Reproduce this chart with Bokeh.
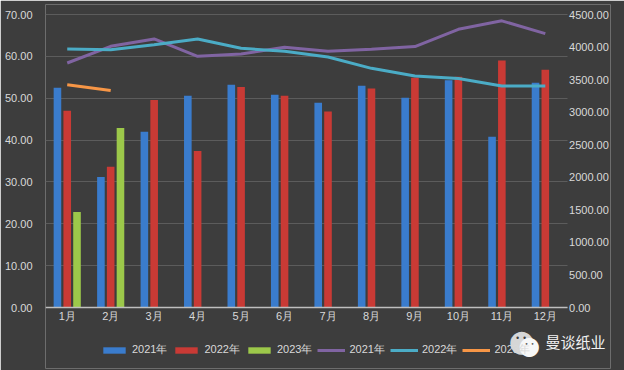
from bokeh.plotting import figure
from bokeh.models import (Range1d, LinearAxis, NumeralTickFormatter, FixedTicker,
                          Legend, LegendItem, FactorRange, ColumnDataSource, Label)
from bokeh.transform import dodge
from bokeh.embed import file_html
from bokeh.resources import INLINE

months = ["1月", "2月", "3月", "4月", "5月", "6月", "7月", "8月", "9月", "10月", "11月", "12月"]

bar_2021 = [52.5, 31.2, 42.0, 50.6, 53.2, 50.8, 48.9, 53.0, 50.1, 54.3, 40.8, 53.7]
bar_2022 = [47.0, 33.6, 49.6, 37.4, 52.7, 50.6, 46.8, 52.3, 54.9, 55.1, 59.0, 56.8]
bar_2023 = [22.8, 42.9]
months_2023 = months[:2]

line_2021 = [3755, 4011, 4125, 3857, 3894, 3996, 3935, 3966, 4007, 4273, 4403, 4207]
line_2022 = [3971, 3960, 4037, 4125, 3981, 3935, 3847, 3673, 3555, 3518, 3401, 3401]
line_2023 = [3421, 3333]

left_ticks = [0, 10, 20, 30, 40, 50, 60, 70]
right_ticks = [0, 500, 1000, 1500, 2000, 2500, 3000, 3500, 4000, 4500]
left_max = 70
right_max = 4500

BG = "#3d3d3d"
TXT = "#d9d9d9"
FONT = "Liberation Sans"

# layout: frame from y=4 to y=368; value 0 sits at y=307 and the top tick at y=14.
# One blank slot after 12月 gives room (inside the frame) for the right axis labels
# and the watermark; the right axis is drawn at the end of 12月.
W, H = 624, 370
TOP, BOTTOM_BORDER = 4, 2
FRAME_BOTTOM = H - BOTTOM_BORDER
ZERO_Y, MAX_Y = 307, 14
hi_frac = (ZERO_Y - TOP) / (ZERO_Y - MAX_Y)
lo_frac = (FRAME_BOTTOM - ZERO_Y) / (ZERO_Y - MAX_Y)
n = len(months)

p = figure(width=W, height=H, x_range=FactorRange(*(months + [" "]), range_padding=0),
           y_range=Range1d(-left_max * lo_frac, left_max * hi_frac), output_backend="svg",
           toolbar_location=None,
           min_border_left=45, min_border_right=14, min_border_top=TOP,
           min_border_bottom=BOTTOM_BORDER)
p.extra_y_ranges = {"r": Range1d(-right_max * lo_frac, right_max * hi_frac)}
p.background_fill_color = BG
p.border_fill_color = BG
p.outline_line_color = None

# bars
src21 = ColumnDataSource(dict(m=months, v=bar_2021))
src22 = ColumnDataSource(dict(m=months, v=bar_2022))
src23 = ColumnDataSource(dict(m=months_2023, v=bar_2023))
bw = 0.175
r21 = p.vbar(x=dodge("m", -0.225, range=p.x_range), top="v", bottom=0, width=bw, source=src21,
             fill_color="#3a7ccd", line_color=None)
r22 = p.vbar(x=dodge("m", 0.0, range=p.x_range), top="v", bottom=0, width=bw, source=src22,
             fill_color="#c93a35", line_color=None)
r23 = p.vbar(x=dodge("m", 0.225, range=p.x_range), top="v", bottom=0, width=bw, source=src23,
             fill_color="#9cc84a", line_color=None)

# lines on right axis
l21 = p.line(months, line_2021, y_range_name="r", line_color="#8064a2", line_width=3)
l22 = p.line(months, line_2022, y_range_name="r", line_color="#4bacc6", line_width=3)
l23 = p.line(months_2023, line_2023, y_range_name="r", line_color="#f79646", line_width=3)

# axes
ya = p.yaxis[0]
ya.ticker = FixedTicker(ticks=left_ticks)
ya.formatter = NumeralTickFormatter(format="0.00")
ya.axis_line_color = None
ya.major_tick_line_color = None
ya.minor_tick_line_color = None
ya.major_label_text_color = TXT
ya.major_label_text_font = FONT
ya.major_label_text_font_size = "11px"
ya.major_label_standoff = 7

ra = LinearAxis(y_range_name="r", ticker=FixedTicker(ticks=right_ticks),
                formatter=NumeralTickFormatter(format="0.00"))
ra.fixed_location = float(n)
ra.axis_line_color = None
ra.axis_line_alpha = 0
ra.axis_line_width = 0
ra.major_tick_line_color = None
ra.minor_tick_line_color = None
ra.major_tick_in = 0
ra.major_tick_out = 0
ra.major_label_text_color = TXT
ra.major_label_text_font = FONT
ra.major_label_text_font_size = "11px"
ra.major_label_standoff = 2
p.add_layout(ra, "right")

xa = p.xaxis[0]
xa.fixed_location = 0
xa.bounds = (0, float(n))
xa.axis_line_color = "#bfbfbf"
xa.axis_line_width = 1.5
xa.major_tick_line_color = None
xa.minor_tick_line_color = None
xa.major_tick_in = 0
xa.major_tick_out = 0
xa.major_label_text_color = TXT
xa.major_label_text_font = FONT
xa.major_label_text_font_size = "11px"
xa.major_label_standoff = 2
try:
    xa.separator_line_color = None
except Exception:
    pass

p.xgrid.grid_line_color = None
p.xgrid.visible = False
p.ygrid.grid_line_color = "#5c5c5c"
p.ygrid.grid_line_width = 1
try:
    p.ygrid.cross_bounds = (0, float(n))
except Exception:
    pass

legend = Legend(items=[
    LegendItem(label="2021年", renderers=[r21]),
    LegendItem(label="2022年", renderers=[r22]),
    LegendItem(label="2023年", renderers=[r23]),
    LegendItem(label="2021年", renderers=[l21]),
    LegendItem(label="2022年", renderers=[l22]),
    LegendItem(label="2023年", renderers=[l23]),
], orientation="horizontal", location=(55, 11))
legend.padding = 0
legend.margin = 0
legend.spacing = 5
legend.glyph_width = 28
legend.glyph_height = 8
legend.label_height = 14
legend.label_standoff = 4
legend.label_text_font = FONT
legend.label_text_font_size = "11px"
legend.label_text_color = TXT
legend.border_line_alpha = 0
legend.background_fill_alpha = 0
p.add_layout(legend, "center")

# watermark: icon (two bubbles) and name
def wm(x, y, text, size, color, font="DejaVu Sans"):
    p.add_layout(Label(x=x, y=y, x_units="screen", y_units="screen", text=text,
                       text_font=font, text_font_size=size, text_color=color,
                       text_align="center", text_baseline="middle"))

wm(476, 28, "●", "30px", "#d6d6d6")
wm(472, 30, "•", "8px", "#3d3d3d")
wm(479, 30, "•", "8px", "#3d3d3d")
wm(484, 23, "●", "25px", "#f7f7f7")
wm(481, 25, "•", "6px", "#555555")
wm(487, 25, "•", "6px", "#555555")
wm(530, 27, "曼谈纸业", "15px", "#f2f2f2", "Noto Sans CJK SC")

open("out.html", "w").write(file_html(p, INLINE))
